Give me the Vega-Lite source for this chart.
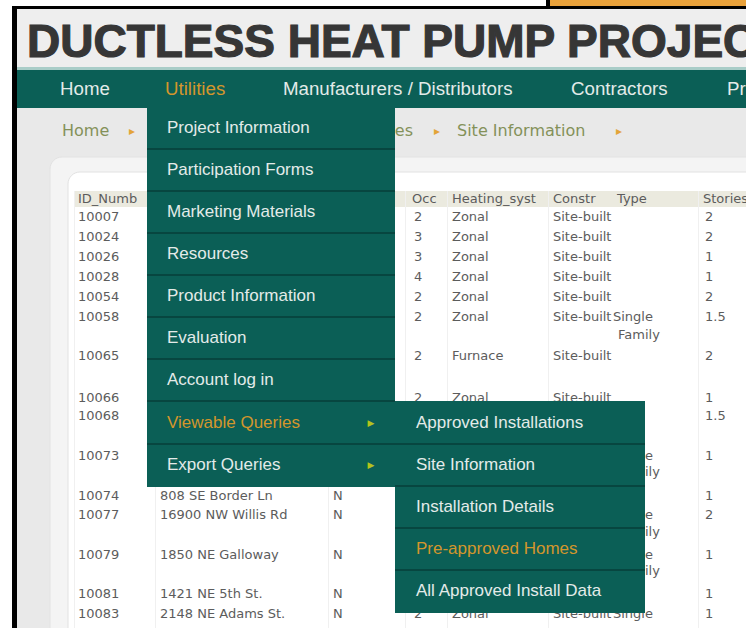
{
  "$schema": "https://vega.github.io/schema/vega-lite/v6.json",
  "width": 746,
  "height": 628,
  "autosize": {"type": "fit", "contains": "padding"},
  "padding": 0,
  "background": "#ffffff",
  "config": {"view": {"stroke": null}},
  "datasets": {
    "frame": [
      {"part": "orange", "x": 550, "x2": 746, "y": 0, "y2": 6},
      {"part": "black", "x": 546, "x2": 550, "y": 0, "y2": 9},
      {"part": "black", "x": 12, "x2": 746, "y": 6, "y2": 9},
      {"part": "black", "x": 12, "x2": 17, "y": 6, "y2": 628},
      {"part": "header", "x": 17, "x2": 746, "y": 9, "y2": 70},
      {"part": "headerline", "x": 17, "x2": 746, "y": 67, "y2": 70},
      {"part": "nav", "x": 17, "x2": 746, "y": 70, "y2": 108},
      {"part": "crumb", "x": 17, "x2": 746, "y": 108, "y2": 628}
    ],
    "panels": [
      {"part": "panel", "x": 50, "x2": 780, "y": 157, "y2": 680},
      {"part": "inner", "x": 68, "x2": 780, "y": 172, "y2": 680}
    ],
    "tablebg": [
      {"part": "thead", "x": 75, "x2": 746, "y": 191, "y2": 207},
      {"part": "grid", "x": 74, "x2": 75, "y": 191, "y2": 628},
      {"part": "grid", "x": 155, "x2": 156, "y": 191, "y2": 628},
      {"part": "grid", "x": 328, "x2": 329, "y": 191, "y2": 628},
      {"part": "grid", "x": 405, "x2": 406, "y": 191, "y2": 628},
      {"part": "grid", "x": 447, "x2": 448, "y": 191, "y2": 628},
      {"part": "grid", "x": 548, "x2": 549, "y": 191, "y2": 628},
      {"part": "grid", "x": 698, "x2": 699, "y": 191, "y2": 628}
    ],
    "cells": [
      {"label": "ID_Numb", "x": 78, "y": 199},
      {"label": "Occ", "x": 412, "y": 199},
      {"label": "Heating_syst", "x": 452, "y": 199},
      {"label": "Constr", "x": 553, "y": 199},
      {"label": "Type", "x": 617, "y": 199},
      {"label": "Stories", "x": 703, "y": 199},
      {"label": "10007", "x": 78, "y": 217}, {"label": "2", "x": 414, "y": 217}, {"label": "Zonal", "x": 452, "y": 217}, {"label": "Site-built", "x": 553, "y": 217}, {"label": "2", "x": 705, "y": 217},
      {"label": "10024", "x": 78, "y": 237}, {"label": "3", "x": 414, "y": 237}, {"label": "Zonal", "x": 452, "y": 237}, {"label": "Site-built", "x": 553, "y": 237}, {"label": "2", "x": 705, "y": 237},
      {"label": "10026", "x": 78, "y": 257}, {"label": "3", "x": 414, "y": 257}, {"label": "Zonal", "x": 452, "y": 257}, {"label": "Site-built", "x": 553, "y": 257}, {"label": "1", "x": 705, "y": 257},
      {"label": "10028", "x": 78, "y": 277}, {"label": "4", "x": 414, "y": 277}, {"label": "Zonal", "x": 452, "y": 277}, {"label": "Site-built", "x": 553, "y": 277}, {"label": "1", "x": 705, "y": 277},
      {"label": "10054", "x": 78, "y": 297}, {"label": "2", "x": 414, "y": 297}, {"label": "Zonal", "x": 452, "y": 297}, {"label": "Site-built", "x": 553, "y": 297}, {"label": "2", "x": 705, "y": 297},
      {"label": "10058", "x": 78, "y": 317}, {"label": "2", "x": 414, "y": 317}, {"label": "Zonal", "x": 452, "y": 317}, {"label": "Site-built", "x": 553, "y": 317}, {"label": "Single", "x": 613, "y": 317}, {"label": "Family", "x": 618, "y": 335}, {"label": "1.5", "x": 705, "y": 317},
      {"label": "10065", "x": 78, "y": 356}, {"label": "2", "x": 414, "y": 356}, {"label": "Furnace", "x": 452, "y": 356}, {"label": "Site-built", "x": 553, "y": 356}, {"label": "2", "x": 705, "y": 356},
      {"label": "10066", "x": 78, "y": 398}, {"label": "2", "x": 414, "y": 398}, {"label": "Zonal", "x": 452, "y": 398}, {"label": "Site-built", "x": 553, "y": 398}, {"label": "1", "x": 705, "y": 398},
      {"label": "10068", "x": 78, "y": 416}, {"label": "1.5", "x": 705, "y": 416},
      {"label": "10073", "x": 78, "y": 456}, {"label": "Single", "x": 613, "y": 456}, {"label": "Family", "x": 618, "y": 472}, {"label": "1", "x": 705, "y": 456},
      {"label": "10074", "x": 78, "y": 496}, {"label": "808 SE Border Ln", "x": 160, "y": 496}, {"label": "N", "x": 333, "y": 496}, {"label": "1", "x": 705, "y": 496},
      {"label": "10077", "x": 78, "y": 515}, {"label": "16900 NW Willis Rd", "x": 160, "y": 515}, {"label": "N", "x": 333, "y": 515}, {"label": "Single", "x": 613, "y": 515}, {"label": "Family", "x": 618, "y": 532}, {"label": "2", "x": 705, "y": 515},
      {"label": "10079", "x": 78, "y": 555}, {"label": "1850 NE Galloway", "x": 160, "y": 555}, {"label": "N", "x": 333, "y": 555}, {"label": "Single", "x": 613, "y": 555}, {"label": "Family", "x": 618, "y": 571}, {"label": "1", "x": 705, "y": 555},
      {"label": "10081", "x": 78, "y": 594}, {"label": "1421 NE 5th St.", "x": 160, "y": 594}, {"label": "N", "x": 333, "y": 594}, {"label": "1", "x": 705, "y": 594},
      {"label": "10083", "x": 78, "y": 614}, {"label": "2148 NE Adams St.", "x": 160, "y": 614}, {"label": "N", "x": 333, "y": 614}, {"label": "2", "x": 414, "y": 614}, {"label": "Zonal", "x": 452, "y": 614}, {"label": "Site-built", "x": 553, "y": 614}, {"label": "Single", "x": 613, "y": 614}, {"label": "1", "x": 705, "y": 614}
    ],
    "crumbsleft": [
      {"label": "Home", "x": 62, "y": 131},
      {"label": "Site Information", "x": 457, "y": 131}
    ],
    "crumbsright": [
      {"label": "Viewable Queries", "x": 413, "y": 131}
    ],
    "crumbarrows": [
      {"label": "▸", "x": 132, "y": 131},
      {"label": "▸", "x": 437, "y": 131},
      {"label": "▸", "x": 619, "y": 131}
    ],
    "menus": [
      {"part": "menu", "x": 147, "x2": 395, "y": 108, "y2": 487},
      {"part": "menu", "x": 395, "x2": 645, "y": 401, "y2": 613},
      {"part": "sep", "x": 147, "x2": 395, "y": 148, "y2": 150},
      {"part": "sep", "x": 147, "x2": 395, "y": 190, "y2": 192},
      {"part": "sep", "x": 147, "x2": 395, "y": 232, "y2": 234},
      {"part": "sep", "x": 147, "x2": 395, "y": 274, "y2": 276},
      {"part": "sep", "x": 147, "x2": 395, "y": 316, "y2": 318},
      {"part": "sep", "x": 147, "x2": 395, "y": 358, "y2": 360},
      {"part": "sep", "x": 147, "x2": 395, "y": 400, "y2": 402},
      {"part": "sep", "x": 147, "x2": 645, "y": 443, "y2": 445},
      {"part": "sep", "x": 395, "x2": 645, "y": 485, "y2": 487},
      {"part": "sep", "x": 395, "x2": 645, "y": 527, "y2": 529},
      {"part": "sep", "x": 395, "x2": 645, "y": 569, "y2": 571}
    ],
    "menuitems": [
      {"label": "Project Information", "x": 167, "y": 128, "kind": "normal"},
      {"label": "Participation Forms", "x": 167, "y": 170, "kind": "normal"},
      {"label": "Marketing Materials", "x": 167, "y": 212, "kind": "normal"},
      {"label": "Resources", "x": 167, "y": 254, "kind": "normal"},
      {"label": "Product Information", "x": 167, "y": 296, "kind": "normal"},
      {"label": "Evaluation", "x": 167, "y": 338, "kind": "normal"},
      {"label": "Account log in", "x": 167, "y": 380, "kind": "normal"},
      {"label": "Viewable Queries", "x": 167, "y": 423, "kind": "active"},
      {"label": "Export Queries", "x": 167, "y": 465, "kind": "normal"},
      {"label": "Approved Installations", "x": 416, "y": 423, "kind": "normal"},
      {"label": "Site Information", "x": 416, "y": 465, "kind": "normal"},
      {"label": "Installation Details", "x": 416, "y": 507, "kind": "normal"},
      {"label": "Pre-approved Homes", "x": 416, "y": 549, "kind": "active"},
      {"label": "All Approved Install Data", "x": 416, "y": 591, "kind": "normal"}
    ],
    "menuarrows": [
      {"label": "▶", "x": 371, "y": 423},
      {"label": "▶", "x": 371, "y": 465}
    ],
    "navitems": [
      {"label": "Home", "x": 60, "y": 89, "kind": "normal"},
      {"label": "Utilities", "x": 165, "y": 89, "kind": "active"},
      {"label": "Manufacturers / Distributors", "x": 283, "y": 89, "kind": "normal"},
      {"label": "Contractors", "x": 571, "y": 89, "kind": "normal"},
      {"label": "Products", "x": 727, "y": 89, "kind": "normal"}
    ],
    "title": [
      {"label": "DUCTLESS HEAT PUMP PROJEC", "x": 27, "y": 57}
    ]
  },
  "layer": [
    {
      "data": {"name": "frame"},
      "mark": {"type": "rect", "clip": true},
      "encoding": {
        "x": {"field": "x", "type": "quantitative", "scale": {"domain": [0, 746], "nice": false, "zero": false}, "axis": null},
        "x2": {"field": "x2"},
        "y": {"field": "y", "type": "quantitative", "scale": {"domain": [0, 628], "nice": false, "zero": false, "reverse": true}, "axis": null},
        "y2": {"field": "y2"},
        "color": {"field": "part", "type": "nominal", "legend": null,
          "scale": {"domain": ["orange", "black", "header", "headerline", "nav", "crumb", "panel", "inner", "thead", "grid", "menu", "sep"],
                    "range": ["#e9a23b", "#000000", "#eeeeee", "#a9cdc8", "#0b5f56", "#e9e9e9", "#f4f4f4", "#ffffff", "#ebeadf", "#f0f0f0", "#0b5f56", "#074640"]}}
      }
    },
    {
      "data": {"name": "panels"},
      "mark": {"type": "rect", "clip": true, "cornerRadius": 12, "stroke": "#e2e2e2", "strokeWidth": 1},
      "encoding": {
        "x": {"field": "x", "type": "quantitative", "axis": null},
        "x2": {"field": "x2"},
        "y": {"field": "y", "type": "quantitative", "axis": null},
        "y2": {"field": "y2"},
        "color": {"field": "part", "type": "nominal", "legend": null}
      }
    },
    {
      "data": {"name": "tablebg"},
      "mark": {"type": "rect", "clip": true},
      "encoding": {
        "x": {"field": "x", "type": "quantitative", "axis": null},
        "x2": {"field": "x2"},
        "y": {"field": "y", "type": "quantitative", "axis": null},
        "y2": {"field": "y2"},
        "color": {"field": "part", "type": "nominal", "legend": null}
      }
    },
    {
      "data": {"name": "cells"},
      "mark": {"type": "text", "clip": true, "align": "left", "baseline": "middle", "font": "DejaVu Sans", "fontSize": 13, "color": "#5c5c5c"},
      "encoding": {
        "x": {"field": "x", "type": "quantitative", "axis": null},
        "y": {"field": "y", "type": "quantitative", "axis": null},
        "text": {"field": "label"}
      }
    },
    {
      "data": {"name": "crumbsleft"},
      "mark": {"type": "text", "clip": true, "align": "left", "baseline": "middle", "font": "DejaVu Sans", "fontSize": 16, "color": "#849159"},
      "encoding": {
        "x": {"field": "x", "type": "quantitative", "axis": null},
        "y": {"field": "y", "type": "quantitative", "axis": null},
        "text": {"field": "label"}
      }
    },
    {
      "data": {"name": "crumbsright"},
      "mark": {"type": "text", "clip": true, "align": "right", "baseline": "middle", "font": "DejaVu Sans", "fontSize": 16, "color": "#849159"},
      "encoding": {
        "x": {"field": "x", "type": "quantitative", "axis": null},
        "y": {"field": "y", "type": "quantitative", "axis": null},
        "text": {"field": "label"}
      }
    },
    {
      "data": {"name": "crumbarrows"},
      "mark": {"type": "text", "clip": true, "align": "center", "baseline": "middle", "font": "DejaVu Sans", "fontSize": 12, "color": "#e3a43a"},
      "encoding": {
        "x": {"field": "x", "type": "quantitative", "axis": null},
        "y": {"field": "y", "type": "quantitative", "axis": null},
        "text": {"field": "label"}
      }
    },
    {
      "data": {"name": "menus"},
      "mark": {"type": "rect", "clip": true},
      "encoding": {
        "x": {"field": "x", "type": "quantitative", "axis": null},
        "x2": {"field": "x2"},
        "y": {"field": "y", "type": "quantitative", "axis": null},
        "y2": {"field": "y2"},
        "color": {"field": "part", "type": "nominal", "legend": null}
      }
    },
    {
      "data": {"name": "menuitems"},
      "mark": {"type": "text", "clip": true, "align": "left", "baseline": "middle", "font": "Liberation Sans", "fontSize": 17},
      "encoding": {
        "x": {"field": "x", "type": "quantitative", "axis": null},
        "y": {"field": "y", "type": "quantitative", "axis": null},
        "text": {"field": "label"},
        "fill": {"field": "kind", "type": "nominal", "legend": null, "scale": {"domain": ["normal", "active"], "range": ["#e3ebe9", "#d3962c"]}}
      }
    },
    {
      "data": {"name": "menuarrows"},
      "mark": {"type": "text", "clip": true, "align": "center", "baseline": "middle", "font": "DejaVu Sans", "fontSize": 9, "color": "#b3c21e"},
      "encoding": {
        "x": {"field": "x", "type": "quantitative", "axis": null},
        "y": {"field": "y", "type": "quantitative", "axis": null},
        "text": {"field": "label"}
      }
    },
    {
      "data": {"name": "navitems"},
      "mark": {"type": "text", "clip": true, "align": "left", "baseline": "middle", "font": "Liberation Sans", "fontSize": 18.7},
      "encoding": {
        "x": {"field": "x", "type": "quantitative", "axis": null},
        "y": {"field": "y", "type": "quantitative", "axis": null},
        "text": {"field": "label"},
        "fill": {"field": "kind", "type": "nominal", "legend": null, "scale": {"domain": ["normal", "active"], "range": ["#e3ebe9", "#d3962c"]}}
      }
    },
    {
      "data": {"name": "title"},
      "mark": {"type": "text", "clip": true, "align": "left", "baseline": "alphabetic", "font": "Liberation Sans", "fontWeight": "bold", "fontSize": 46, "color": "#363636", "stroke": "#363636", "strokeWidth": 1.2},
      "encoding": {
        "x": {"field": "x", "type": "quantitative", "axis": null},
        "y": {"field": "y", "type": "quantitative", "axis": null},
        "text": {"field": "label"}
      }
    }
  ],
  "resolve": {"scale": {"fill": "independent"}}
}
